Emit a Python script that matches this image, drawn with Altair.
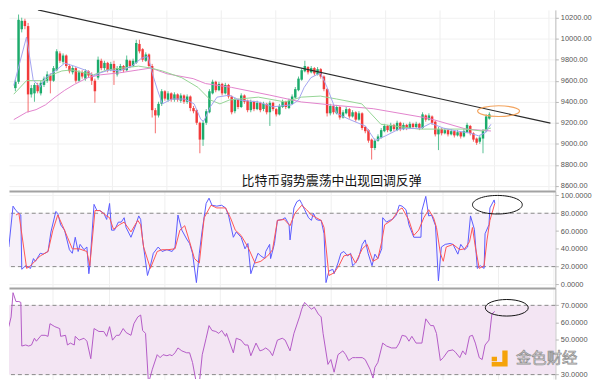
import altair as alt
import pandas as pd

# ---------------- candles (bar index, OHLC) ----------------
opens = [9530,9590,10090,10170,10120,9470,9480,9560,9480,9560,
         9600,9650,9600,9700,9860,9780,9840,9740,9680,9720,
         9600,9680,9620,9690,9660,9600,9630,9790,9720,9770,
         9700,9760,9660,9700,9740,9700,9790,9740,9770,9950,
         9900,9790,9850,9740,9320,9270,9380,9500,9420,9480,
         9420,9470,9410,9460,9400,9450,9340,9320,9200,9040,
         9200,9300,9480,9590,9510,9570,9480,9560,9450,9310,
         9420,9350,9460,9410,9320,9400,9330,9390,9330,9380,
         9300,9390,9330,9280,9350,9400,9340,9380,9440,9510,
         9610,9690,9730,9680,9720,9660,9710,9640,9520,9290,
         9360,9290,9350,9250,9290,9330,9260,9300,9230,9290,
         9160,9130,9040,8960,9030,9060,9120,9170,9120,9180,
         9130,9200,9140,9180,9150,9190,9160,9190,9150,9270,
         9230,9260,9210,9090,9140,9100,9130,9090,9120,9080,
         9110,9070,9110,9170,9100,9050,9020,9050,9120,9240]
closes = [9590,10180,10170,10120,9470,9530,9560,9500,9580,9620,
          9660,9600,9720,9880,9790,9840,9740,9690,9720,9600,
          9680,9640,9690,9650,9600,9500,9800,9720,9770,9700,
          9760,9680,9720,9740,9700,9800,9740,9790,9960,9880,
          9800,9850,9740,9320,9270,9380,9500,9430,9480,9420,
          9470,9420,9460,9400,9450,9340,9310,9200,9040,9200,
          9310,9500,9590,9510,9570,9480,9560,9450,9300,9420,
          9350,9460,9400,9320,9400,9330,9390,9320,9380,9300,
          9390,9330,9280,9360,9400,9350,9410,9450,9520,9620,
          9700,9740,9680,9720,9670,9710,9640,9520,9290,9360,
          9300,9350,9250,9300,9330,9260,9300,9230,9290,9150,
          9120,9030,8960,9030,9070,9130,9170,9130,9180,9140,
          9200,9140,9180,9150,9190,9160,9190,9150,9280,9230,
          9270,9200,9090,9140,9100,9130,9090,9120,9080,9110,
          9070,9120,9180,9100,9040,9010,9060,9120,9260,9280]
highs = [9610,10230,10200,10190,10150,9560,9580,9580,9600,9640,
         9690,9670,9740,9900,9880,9860,9850,9760,9740,9730,
         9700,9700,9710,9700,9680,9620,9830,9810,9790,9780,
         9780,9790,9740,9760,9750,9840,9800,9810,9990,9990,
         9910,9870,9860,9760,9340,9400,9520,9510,9500,9490,
         9490,9480,9480,9470,9470,9460,9360,9330,9210,9220,
         9330,9520,9610,9600,9590,9580,9580,9570,9460,9440,
         9430,9480,9470,9420,9420,9410,9410,9400,9400,9390,
         9410,9400,9340,9380,9420,9410,9430,9470,9540,9640,
         9720,9790,9740,9740,9730,9730,9720,9650,9530,9380,
         9370,9370,9360,9320,9350,9340,9320,9310,9310,9300,
         9170,9140,9050,9050,9090,9150,9190,9180,9200,9190,
         9220,9210,9200,9190,9210,9200,9210,9200,9300,9280,
         9290,9270,9220,9160,9150,9150,9140,9140,9130,9130,
         9120,9140,9200,9180,9110,9060,9080,9140,9280,9300]
lows = [9500,9570,10060,10090,9300,9440,9400,9480,9460,9540,
        9580,9480,9590,9690,9770,9760,9720,9670,9660,9580,
        9590,9620,9600,9630,9560,9390,9610,9700,9700,9680,
        9690,9560,9640,9690,9680,9690,9720,9730,9760,9860,
        9780,9780,9720,9250,9100,9250,9360,9410,9400,9400,
        9400,9400,9390,9380,9380,9310,9290,9180,8910,8980,
        9180,9290,9470,9490,9500,9460,9470,9430,9280,9290,
        9330,9340,9380,9300,9300,9310,9320,9300,9310,9280,
        9170,9310,9260,9270,9340,9330,9330,9370,9430,9500,
        9600,9680,9660,9670,9650,9650,9620,9500,9260,9270,
        9280,9280,9230,9240,9280,9240,9250,9210,9220,9130,
        9100,9010,8850,8940,9020,9050,9110,9110,9110,9120,
        9120,9120,9130,9130,9140,9140,9150,9130,9140,9210,
        9220,9180,9070,8940,9080,9090,9070,9080,9060,9070,
        9050,9060,9100,9080,9020,8990,9000,8910,9110,9230]
bar_idx = list(range(len(opens)))

# ---------------- moving averages (bar index, price) ----------------
ma_long_t = [-0.5,3.5,6.5,9.5,12.5,15.5,18.5,22.7,26.7,32.7,38.7,42.6,47.7,55.9,59.8,67.9,80,89.9,102,112.5,130,141.7,149.5]
ma_long_p = [9230,9300,9325,9371,9444,9509,9564,9629,9656,9675,9703,9721,9666,9620,9573,9537,9463,9398,9362,9334,9242,9140,9122]
ma_mid_t = [-0.5,3.5,9.5,10.7,14.6,17.6,24.5,28.8,33.6,38.7,42.6,46.2,52.3,57.4,61.3,64.3,67.3,76.4,84.8,89.9,95.9,101,108.9,114.9,126.7,141.7,146.5,149.5]
ma_mid_p = [9472,9601,9601,9647,9693,9703,9656,9703,9721,9739,9721,9693,9629,9537,9417,9380,9417,9444,9398,9444,9454,9426,9380,9186,9140,9140,9122,9150]
ma_short_t = [-0.5,3.5,5.6,7.7,9.5,12.5,15.5,18.5,22.7,24.5,26.7,29.7,32.7,36.6,39.6,41.7,43.2,44.7,46.2,49.2,
              53.2,56.2,58.3,59.2,61.3,63.4,67.3,70.3,76.4,80.9,86.9,89,90.8,92.9,95.9,98,101.1,105,110.1,113.1,
              116.4,120.6,127.6,130.6,134.5,138.7,142.6,145.6,147.7,149.5]
ma_short_p = [9555,10016,9610,9537,9629,9693,9767,9739,9693,9647,9675,9703,9693,9739,9813,9832,9656,9509,9380,9426,
              9426,9380,9232,9214,9352,9444,9463,9417,9398,9352,9371,9417,9537,9629,9675,9537,9288,9232,9168,9030,
              9076,9140,9150,9196,9150,9122,9104,9076,9104,9186]

trend_t = [7.1, 168.2]
trend_p = [10274, 9196]

# ---------------- stochastic ----------------
k_t = [-0.5,0.8,1.7,2.6,3.2,3.5,4.7,6.2,7.1,7.7,9.2,10.1,11.6,12.5,14,14.6,15.5,16.7,18.2,19.1,
       20,20.9,21.5,22.7,23.6,24.2,24.5,25.8,26.7,27.6,28.8,29.7,30.6,31.2,32.1,33.3,34.2,35.1,35.7,37.2,
       38.7,39.6,40.2,40.8,42.3,43.2,44.1,45.6,46.8,48.3,49.9,50.8,51.7,52.9,54.4,55.3,56.2,57.4,58.3,59.2,
       60.4,61.3,62.2,63.7,65.2,66.4,67.3,68.8,69.7,71.2,72.4,73.3,74.2,75.5,76.4,77.3,78.5,78.8,80,80.3,
       81.5,82.4,83.9,84.8,86,86.3,87.5,88.4,89.3,89.9,90.8,92,92.9,93.5,94.4,95.3,95.9,96.8,97.4,98.3,
       99.5,99.9,101.1,102,102.9,104.1,105,105.6,106.5,107.4,108.6,109.5,110.4,111.6,112.5,113.4,114.6,114.9,116.1,117,
       117.9,119.1,120,120.9,122.1,123,124.5,125.5,126.7,127,128.2,129.1,130,131.2,132.1,133,134.2,135.7,136.6,138.1,
       139,140.2,141.1,142,143.2,144.1,145,146.2,146.5,147.7,148,149.3,149.5]
k_v = [42,88,83,80,78,17,21,18,29,26,35,34,37,59,82,80,67,61,39,35,
       53,37,45,39,42,12,21,90,83,83,80,73,91,61,61,70,70,75,64,53,
       67,77,73,50,10,21,35,42,37,39,37,42,78,61,51,46,35,2,35,61,
       91,97,89,88,89,86,78,53,59,53,40,46,12,26,35,32,29,37,45,29,
       46,72,73,75,67,50,86,93,95,91,84,75,72,80,73,72,72,57,2,15,
       17,12,24,35,37,32,35,21,24,29,45,50,35,21,34,29,40,75,70,72,
       73,78,89,88,84,67,53,53,53,83,99,77,78,66,4,42,45,46,45,34,
       45,39,42,77,62,18,21,18,57,67,86,95,91]
d_t = [1.7,2.6,5,6.2,9.2,11.6,13.1,14.6,16.1,17.6,19.1,21.2,23.6,24.5,26.1,27.6,29.7,30.6,31.8,33.6,
       35.1,37.2,39.3,40.2,41.1,43.2,45.3,46.8,48.6,50.8,52.3,53.8,55.3,56.8,58.3,59.8,61.9,63.7,66.4,67.9,
       69.4,71.2,73.3,75.5,77.3,79.4,80.9,82.4,84.5,86.3,87.8,89.9,91.4,92.9,94.4,95.9,96.8,98.3,99.9,101.4,
       102.9,105,106.5,108.6,110.1,111.9,113.4,114.6,115.5,117.6,120,120.9,123,124.5,126,127.6,129.1,130.6,131.5,132.7,
       133.6,134.5,136.6,138.7,140.2,141.7,142.6,143.5,144.7,146.2,147.1,148,149.5]
d_v = [78,80,18,21,32,37,61,78,66,53,40,40,37,21,83,83,77,75,62,67,
       70,59,72,67,42,18,37,39,39,40,61,66,48,29,24,75,89,86,86,75,
       61,55,42,24,26,32,39,72,73,66,80,89,84,78,75,72,64,10,13,21,
       32,34,24,40,45,26,29,48,67,72,84,86,72,55,61,75,84,75,64,35,
       26,42,45,39,40,48,64,42,18,21,50,72,91]
sto_levels = [20, 80]

# ---------------- RSI ----------------
rsi_t = [-0.5,0.2,0.8,1.7,2.6,3.2,3.5,4.7,5.6,6.5,7.4,8,9.5,10.7,11.6,12.2,13.7,15.2,15.5,17,
         17.6,18.5,19.7,20,21.2,22.7,23.6,24.8,25.8,27.3,28.8,29.7,30.6,31.5,32.7,33.6,34.8,35.7,37.2,38.1,
         39.3,40.2,40.8,41.7,42.6,43.8,45.3,46.2,47.1,48.3,49.2,49.9,50.8,51.7,52.9,54.4,55.3,56.2,57.4,58.3,
         59.2,60.4,61.3,62.2,63.4,64.3,65.2,66.4,66.7,68.8,69.7,71.2,72.4,73.3,74.2,75.8,77,77.9,78.8,80,
         80.9,82.4,83.9,84.8,86.3,87.5,89.3,89.9,90.8,92,92.9,93.8,95,95.9,96.5,98,98.9,99.9,101.1,102.6,
         103.5,104.4,105.6,106.5,108.6,109.5,111,111.9,112.5,113.4,114.9,116.1,117.6,119.1,120,120.9,122.1,123,123.9,125.2,
         127,128.2,129.7,130.6,131.5,132.7,133.6,135.1,136.6,137.5,138.7,139.6,140.5,141.7,142.6,143.5,144.7,145.6,146.5,147.7,
         148.6,149.5]
rsi_v = [57.7,63.3,77.3,72.2,72.2,71.7,46.5,47.1,46.5,47.1,51,49.3,52.7,52.7,52.1,59.4,57.7,56.6,52.1,52.7,
         47.1,48.2,47.1,52.1,49.9,51,49.3,39.2,56.6,54.9,54.9,52.1,57.7,49.9,52.7,52.7,56.6,54.3,52.7,59.4,
         63.3,64.4,55.5,53.8,25,33.1,41.5,39.8,41.5,40.9,41.5,40.9,42.6,45.4,43.7,42.6,42.6,37,25,25,
         41.5,51,58.3,55.5,54.9,53.8,55.5,52.1,53.8,42.6,51,49.9,47.1,47.1,40.9,48.2,43.7,44.3,45.4,43.7,
         40.9,49.9,51,49.9,43.7,53.8,63.8,67.8,71.7,69.4,67.8,68.9,65,63.3,53.8,35.9,38.7,31.4,41.5,43.7,
         41.5,38.1,39.8,39.8,39.8,38.7,33.1,28,34.2,37,48.2,46.5,45.4,45.4,48.2,52.7,52.1,49.3,52.1,48.2,
         48.2,62.2,58.3,58.3,53.8,38.1,39.8,43.7,44.3,42.6,39.8,43.7,41.5,52.1,52.7,48.2,39.8,38.7,47.1,49.9,
         65,66.5]
rsi_levels = [30, 70]

# ---------------- annotations ----------------
headline = ["比特币弱势震荡中出现回调反弹"]
headline_t, headline_p = [99.4], [8643]
orange_ring_t, orange_ring_p = [151.9], [9311]
sto_ring_t, sto_ring_v = [150.3], [89.6]
rsi_ring_t, rsi_ring_v = [153.2], [68.6]
brand = ["金色财经"]
brand_t, brand_v = [165.5], [39.5]
logo_t, logo_v = [151.0], [39.3]

# ---------------- layout / style ----------------
GREEN = "#1cab6c"
RED = "#f23a3a"
W = 552
H_MAIN, H_STO, H_RSI = 182, 97, 92
LABEL_FONT = "Liberation Sans"
CJK = "Noto Sans CJK SC"
grid_t = [13.1, 30.3, 47.4, 64.6, 81.8, 98.9, 116.1, 133.3, 150.5, 167.6]
x_scale = alt.Scale(domain=[-0.45, 168.2], nice=False, zero=False)


def x_enc(sep):
    return alt.X("t:Q", scale=x_scale,
                 axis=alt.Axis(orient="top", values=grid_t, labels=False, ticks=False,
                               domain=sep, domainColor="#a3a3a3", domainWidth=2,
                               grid=True, gridColor="#efefef", gridWidth=1, title=None))


def y_enc(field, scale, axis):
    return alt.Y(f"{field}:Q", scale=scale, axis=axis)


def y_axis(vals, fmt):
    return alt.Axis(orient="right", values=vals, format=fmt, title=None, grid=True,
                    gridColor="#f1f1f1", domain=True, domainColor="#b8b8b8", ticks=True,
                    tickColor="#b8b8b8", tickSize=3, labelPadding=2, labelFont=LABEL_FONT,
                    labelFontSize=7.5, labelColor="#555555")


def ellipse(ratio):
    return f"M -1 0 A 1 {ratio} 0 1 1 1 0 A 1 {ratio} 0 1 1 -1 0 Z"


# ---------------- main price panel ----------------
candles = pd.DataFrame({"t": bar_idx, "open": opens, "close": closes, "high": highs, "low": lows})
candles["dir"] = ["up" if c >= o else "down" for o, c in zip(opens, closes)]
y_main = alt.Scale(domain=[8560, 10274], nice=False, zero=False)
ax_main = y_axis([8600, 8800, 9000, 9200, 9400, 9600, 9800, 10000, 10200], ".2f")
col = alt.Color("dir:N", scale=alt.Scale(domain=["up", "down"], range=[GREEN, RED]), legend=None)

wicks = alt.Chart(candles).mark_rule(strokeWidth=1, opacity=0.75).encode(
    x=x_enc(False), y=y_enc("low", y_main, ax_main), y2="high:Q", color=col)
bodies = alt.Chart(candles).mark_bar(size=2.5).encode(
    x=x_enc(False), y=y_enc("open", y_main, ax_main), y2="close:Q", color=col)


def line(t, p, color, width=1.0):
    df = pd.DataFrame({"t": t, "p": p})
    return alt.Chart(df).mark_line(color=color, strokeWidth=width, clip=True).encode(
        x=x_enc(False), y=y_enc("p", y_main, ax_main))


ma_long = line(ma_long_t, ma_long_p, "#e283cc")
ma_mid = line(ma_mid_t, ma_mid_p, "#95d495")
ma_short = line(ma_short_t, ma_short_p, "#a3a3f0")
trend = line(trend_t, trend_p, "#2b2b2b", 1.2)

ring = alt.Chart(pd.DataFrame({"t": orange_ring_t, "p": orange_ring_p})).mark_point(
    shape=ellipse(0.256), size=1800, filled=False, stroke="#f3a45e", strokeWidth=1.2, opacity=1).encode(
    x=x_enc(False), y=y_enc("p", y_main, ax_main))

title_txt = alt.Chart(pd.DataFrame({"t": headline_t, "p": headline_p, "s": headline})).mark_text(
    font=CJK, fontSize=13, color="#141414", align="center", baseline="middle").encode(
    x=x_enc(False), y=y_enc("p", y_main, ax_main), text="s:N")

main = alt.layer(wicks, bodies, ma_long, ma_mid, ma_short, trend, ring, title_txt).properties(
    width=W, height=H_MAIN)

# ---------------- stochastic panel ----------------
y_sto = alt.Scale(domain=[-3, 105], nice=False, zero=False)
ax_sto = y_axis([0, 20, 40, 60, 80, 100], ".4f")
sto_band = alt.Chart(pd.DataFrame({"t": [-0.45], "t2": [168.2], "lo": [sto_levels[0]], "hi": [sto_levels[1]]})).mark_rect(
    color="#f6f0f9").encode(x=x_enc(True), x2="t2:Q", y=y_enc("lo", y_sto, ax_sto), y2="hi:Q")
sto_rules = alt.Chart(pd.DataFrame({"lv": sto_levels})).mark_rule(
    color="#8a8a8a", strokeDash=[4, 3], strokeWidth=1).encode(y=y_enc("lv", y_sto, ax_sto))
k_line = alt.Chart(pd.DataFrame({"t": k_t, "v": k_v})).mark_line(
    color="#5a5aff", strokeWidth=1, clip=True).encode(x=x_enc(True), y=y_enc("v", y_sto, ax_sto))
d_line = alt.Chart(pd.DataFrame({"t": d_t, "v": d_v})).mark_line(
    color="#ff5454", strokeWidth=1, clip=True).encode(x=x_enc(True), y=y_enc("v", y_sto, ax_sto))
sto_ring = alt.Chart(pd.DataFrame({"t": sto_ring_t, "v": sto_ring_v})).mark_point(
    shape=ellipse(0.373), size=2530, filled=False, stroke="#111111", strokeWidth=1, opacity=1).encode(
    x=x_enc(True), y=y_enc("v", y_sto, ax_sto))
sto = alt.layer(sto_band, sto_rules, k_line, d_line, sto_ring).properties(width=W, height=H_STO)

# ---------------- RSI panel ----------------
y_rsi = alt.Scale(domain=[27.4, 80], nice=False, zero=False)
ax_rsi = y_axis([30, 50, 60, 70], ".4f")
rsi_band = alt.Chart(pd.DataFrame({"t": [-0.45], "t2": [168.2], "lo": [rsi_levels[0]], "hi": [rsi_levels[1]]})).mark_rect(
    color="#f3e5f3").encode(x=x_enc(True), x2="t2:Q", y=y_enc("lo", y_rsi, ax_rsi), y2="hi:Q")
rsi_rules = alt.Chart(pd.DataFrame({"lv": rsi_levels})).mark_rule(
    color="#8a8a8a", strokeDash=[4, 3], strokeWidth=1).encode(y=y_enc("lv", y_rsi, ax_rsi))
rsi_line = alt.Chart(pd.DataFrame({"t": rsi_t, "v": rsi_v})).mark_line(
    color="#b35ac6", strokeWidth=1, clip=True).encode(x=x_enc(True), y=y_enc("v", y_rsi, ax_rsi))
rsi_ring = alt.Chart(pd.DataFrame({"t": rsi_ring_t, "v": rsi_ring_v})).mark_point(
    shape=ellipse(0.386), size=1880, filled=False, stroke="#111111", strokeWidth=1, opacity=1).encode(
    x=x_enc(True), y=y_enc("v", y_rsi, ax_rsi))
logo_path = "M -0.9 -0.2 L -0.3 -0.2 L -0.3 0.3 L -0.9 0.3 Z M 0.3 -0.9 L 0.9 -0.9 L 0.9 0.9 L -0.9 0.9 L -0.9 0.4 L 0.3 0.4 Z"
logo = alt.Chart(pd.DataFrame({"t": logo_t, "v": logo_v})).mark_point(
    shape=logo_path, size=320, filled=True, color="#f5a30a", opacity=1, strokeWidth=0).encode(
    x=x_enc(True), y=y_enc("v", y_rsi, ax_rsi))
brand_txt = alt.Chart(pd.DataFrame({"t": brand_t, "v": brand_v, "s": brand})).mark_text(
    font=CJK, fontSize=15.5, fill="#e6e6e6", stroke="#8f8f8f", strokeWidth=0.7,
    align="center", baseline="middle").encode(
    x=x_enc(True), y=y_enc("v", y_rsi, ax_rsi), text="s:N")
rsi = alt.layer(rsi_band, rsi_rules, rsi_line, rsi_ring, logo, brand_txt).properties(width=W, height=H_RSI)

chart = alt.vconcat(main, sto, rsi, spacing=1, bounds="flush").properties(
    padding=0, background="white").configure_view(stroke=None)

chart.save("out.html", embed_options={"renderer": "svg", "actions": False})
